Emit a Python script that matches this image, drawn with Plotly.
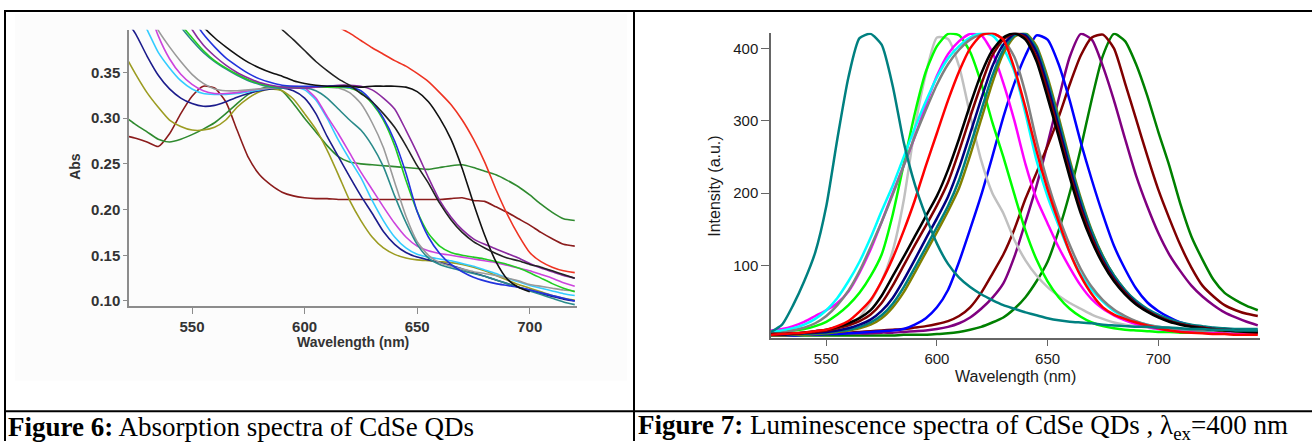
import plotly.graph_objects as go

W, H = 1312, 444

def px_x(p):
    return p / W

def px_y(p):
    return 1 - p / H

# ---------------- Figure 6: absorption data ----------------
wl_abs = [520, 525, 530, 535, 540, 545, 550, 555, 560, 565, 570, 575, 580, 585, 590,
          595, 600, 605, 610, 615, 620, 625, 630, 635, 640, 645, 650, 655, 660, 665,
          670, 675, 680, 685, 690, 695, 700, 705, 710, 715, 720]

abs_dkgreen = [0.302, 0.293, 0.285, 0.277, 0.274, 0.277, 0.282, 0.288, 0.295, 0.305, 0.316, 0.326,
               0.332, 0.334, 0.330, 0.316, 0.300, 0.285, 0.270, 0.258, 0.252, 0.250, 0.249, 0.248,
               0.247, 0.246, 0.245, 0.244, 0.246, 0.248, 0.249, 0.246, 0.242, 0.238, 0.232, 0.225,
               0.216, 0.206, 0.197, 0.190, 0.188]
abs_maroon = [0.281, 0.278, 0.274, 0.269, 0.283, 0.305, 0.324, 0.335, 0.333, 0.318, 0.287, 0.257,
              0.238, 0.227, 0.219, 0.215, 0.213, 0.212, 0.212, 0.211, 0.211, 0.211, 0.211, 0.211,
              0.211, 0.211, 0.211, 0.211, 0.211, 0.212, 0.213, 0.210, 0.209, 0.203, 0.197, 0.190,
              0.183, 0.175, 0.168, 0.162, 0.160]
abs_olive = [0.370, 0.348, 0.328, 0.312, 0.298, 0.291, 0.287, 0.287, 0.290, 0.298, 0.312, 0.322,
             0.329, 0.332, 0.330, 0.321, 0.305, 0.288, 0.265, 0.238, 0.210, 0.188, 0.170, 0.158,
             0.151, 0.147, 0.145, 0.144, 0.143, 0.142, 0.140, 0.137, 0.133, 0.128, 0.123, 0.118,
             0.114, 0.110, 0.106, 0.103, 0.101]
abs_navy = [0.410, 0.392, 0.368, 0.347, 0.332, 0.322, 0.316, 0.313, 0.314, 0.318, 0.323, 0.327,
            0.330, 0.332, 0.333, 0.330, 0.322, 0.305, 0.280, 0.258, 0.236, 0.215, 0.196, 0.176,
            0.162, 0.153, 0.148, 0.145, 0.142, 0.139, 0.135, 0.131, 0.127, 0.123, 0.119, 0.115,
            0.112, 0.108, 0.105, 0.102, 0.100]
abs_cyan = [None, 0.420, 0.397, 0.372, 0.355, 0.341, 0.332, 0.327, 0.326, 0.326, 0.327, 0.329,
            0.331, 0.333, 0.334, 0.334, 0.331, 0.320, 0.300, 0.276, 0.255, 0.235, 0.210, 0.188,
            0.170, 0.158, 0.151, 0.148, 0.146, 0.144, 0.141, 0.138, 0.134, 0.130, 0.125, 0.121,
            0.117, 0.114, 0.111, 0.108, 0.106]
abs_magenta = [None, None, 0.425, 0.390, 0.365, 0.348, 0.337, 0.330, 0.327, 0.327, 0.328, 0.330,
               0.332, 0.333, 0.334, 0.335, 0.333, 0.322, 0.302, 0.283, 0.262, 0.241, 0.222, 0.203,
               0.185, 0.170, 0.160, 0.155, 0.152, 0.150, 0.148, 0.146, 0.144, 0.142, 0.139, 0.136,
               0.133, 0.129, 0.125, 0.120, 0.116]
abs_gray = [None, None, 0.420, 0.396, 0.378, 0.362, 0.348, 0.338, 0.332, 0.330, 0.330, 0.331,
            0.332, 0.333, 0.334, 0.334, 0.334, 0.334, 0.334, 0.333, 0.328, 0.316, 0.295, 0.268,
            0.230, 0.193, 0.165, 0.150, 0.142, 0.138, 0.135, 0.132, 0.130, 0.128, 0.125, 0.122,
            0.118, 0.116, 0.114, 0.112, 0.111]
abs_teal = [None, None, None, None, 0.420, 0.400, 0.385, 0.372, 0.362, 0.354, 0.347, 0.341,
            0.337, 0.334, 0.333, 0.333, 0.333, 0.330, 0.322, 0.310, 0.298, 0.287, 0.270, 0.247,
            0.215, 0.186, 0.162, 0.147, 0.140, 0.136, 0.133, 0.130, 0.127, 0.123, 0.119, 0.115,
            0.111, 0.107, 0.103, 0.099, 0.096]
abs_lime = [None, None, None, None, 0.425, 0.403, 0.388, 0.374, 0.363, 0.355, 0.348, 0.342,
            0.338, 0.335, 0.334, 0.334, 0.334, 0.334, 0.334, 0.334, 0.333, 0.328, 0.316, 0.298,
            0.270, 0.232, 0.198, 0.174, 0.160, 0.153, 0.150, 0.148, 0.146, 0.143, 0.140, 0.136,
            0.131, 0.125, 0.119, 0.114, 0.110]
abs_purple = [None, None, None, None, None, 0.420, 0.397, 0.380, 0.368, 0.358, 0.350, 0.344,
              0.339, 0.336, 0.334, 0.333, 0.333, 0.334, 0.335, 0.336, 0.336, 0.335, 0.331, 0.322,
              0.310, 0.287, 0.262, 0.235, 0.210, 0.192, 0.178, 0.168, 0.162, 0.157, 0.152, 0.147,
              0.141, 0.136, 0.132, 0.128, 0.125]
abs_blue = [None, None, None, None, None, None, 0.410, 0.392, 0.378, 0.366, 0.357, 0.349,
            0.343, 0.339, 0.336, 0.335, 0.335, 0.335, 0.335, 0.335, 0.334, 0.330, 0.318, 0.300,
            0.275, 0.240, 0.198, 0.170, 0.152, 0.140, 0.132, 0.126, 0.122, 0.119, 0.117, 0.115,
            0.112, 0.109, 0.106, 0.103, 0.100]
abs_black_a = [None, None, None, None, None, None, 0.415, 0.400, 0.388, 0.378, 0.369, 0.361,
               0.355, 0.350, 0.346, 0.341, 0.338, 0.336, 0.335, 0.335, 0.335, 0.334, 0.335, 0.335,
               0.335, 0.334, 0.329, 0.318, 0.300, 0.277, 0.245, 0.207, 0.172, 0.143, 0.124, 0.115,
               0.110, None, None, None, None]
abs_black_b = [None, None, None, None, None, None, None, None, None, None, None, None, None,
               0.412, 0.397, 0.386, 0.374, 0.362, 0.352, 0.343, 0.336, 0.327, 0.318, 0.305,
               0.290, 0.270, 0.248, 0.229, 0.207, 0.189, 0.175, 0.165, 0.158, 0.152, 0.147, 0.144,
               0.140, 0.137, 0.133, 0.129, 0.125]
abs_red = [None, None, None, None, None, None, None, None, None, None, None, None, None, None,
           None, None, None, None, 0.412, 0.400, 0.393, 0.385, 0.377, 0.370, 0.363, 0.357, 0.349,
           0.340, 0.328, 0.315, 0.298, 0.277, 0.252, 0.222, 0.195, 0.172, 0.153, 0.143, 0.137,
           0.133, 0.131]

abs_series = [
    (abs_maroon, "#8b1c1c"), (abs_dkgreen, "#2f8a2f"), (abs_olive, "#9c9c22"),
    (abs_navy, "#1c1c8c"), (abs_cyan, "#33ccff"), (abs_magenta, "#cc44dd"),
    (abs_gray, "#9a9a9a"), (abs_teal, "#2a8a8a"), (abs_lime, "#22cc22"),
    (abs_purple, "#8a2aa0"), (abs_blue, "#2233dd"), (abs_black_a, "#111111"),
    (abs_black_b, "#222222"), (abs_red, "#ee3322"),
]

# ---------------- Figure 7: luminescence data ----------------
wl_pl = [525, 530, 535, 540, 545, 550, 555, 560, 565, 570, 575, 580, 585, 590, 595,
         600, 605, 610, 615, 620, 625, 630, 635, 640, 645, 650, 655, 660, 665, 670,
         675, 680, 685, 690, 695, 700, 705, 710, 715, 720, 725, 730, 735, 740, 745]

pl_teal = [8, 18, 45, 78, 118, 182, 275, 360, 414, 420, 405, 348, 270, 212, 168, 130, 102, 83,
           70, 60, 52, 45, 40, 35, 31, 27, 24, 22, 21, 20, 18, 17, 16, 15, 15, 14, 14, 13,
           12, 12, 11, 11, 10, 10, 10]
pl_silver = [5, 5, 6, 7, 8, 10, 12, 16, 28, 50, 78, 120, 190, 290, 365, 415, 413, 375, 308,
             245, 200, 172, 135, 107, 86, 70, 58, 48, 40, 32, 26, 21, 18, 16, 14, 12, 11, 10,
             9, 8, 8, 7, 7, 7, 7]
pl_lime = [8, 9, 10, 12, 16, 22, 32, 45, 62, 85, 115, 170, 240, 310, 368, 403, 420, 418, 395,
           352, 298, 250, 198, 148, 108, 78, 56, 40, 29, 21, 16, 13, 11, 10, 9, 8, 8, 7, 7,
           7, 6, 6, 6, 6, 6]
pl_magenta = [10, 12, 16, 22, 30, 38, 48, 64, 90, 122, 160, 200, 238, 278, 322, 362, 392, 410,
              420, 418, 395, 352, 300, 240, 192, 158, 125, 97, 72, 53, 40, 31, 24, 19, 15, 12,
              10, 9, 8, 7, 7, 7, 6, 6, 6]
pl_cyan = [8, 10, 13, 18, 26, 38, 55, 78, 105, 138, 175, 210, 250, 290, 327, 360, 386, 403,
           415, 421, 418, 400, 368, 310, 245, 195, 155, 118, 88, 66, 50, 37, 28, 22, 18, 15,
           13, 12, 11, 10, 10, 10, 9, 9, 9]
pl_gray = [6, 7, 10, 14, 20, 30, 45, 65, 92, 125, 160, 198, 238, 278, 315, 350, 378, 398, 412,
           419, 421, 412, 388, 338, 272, 215, 168, 128, 95, 70, 52, 39, 30, 23, 18, 15, 13,
           12, 11, 10, 10, 9, 9, 9, 9]
pl_red = [4, 5, 6, 7, 9, 11, 16, 23, 36, 52, 78, 110, 148, 190, 238, 283, 328, 368, 400, 418,
          421, 412, 372, 318, 258, 205, 160, 118, 85, 60, 42, 32, 26, 21, 17, 13, 10, 8, 7, 6,
          5, 5, 4, 4, 4]
pl_black = [5, 5, 6, 7, 9, 11, 15, 20, 27, 38, 58, 85, 112, 140, 168, 196, 232, 275, 322, 365,
            397, 415, 421, 412, 382, 332, 278, 222, 172, 133, 102, 78, 60, 46, 36, 28, 22, 18,
            15, 13, 11, 10, 9, 8, 7]
pl_maroon = [5, 5, 6, 7, 8, 10, 13, 17, 23, 32, 48, 72, 100, 128, 155, 183, 215, 258, 305, 350,
             390, 412, 421, 415, 388, 340, 285, 228, 178, 138, 105, 80, 62, 47, 37, 29, 23, 19,
             16, 14, 12, 11, 10, 9, 9]
pl_navy = [4, 4, 5, 6, 7, 8, 10, 13, 18, 25, 37, 55, 80, 108, 137, 165, 195, 235, 282, 330,
           375, 405, 420, 418, 395, 348, 292, 235, 183, 140, 107, 82, 63, 48, 37, 29, 23, 19,
           16, 14, 12, 11, 10, 9, 9]
pl_teal2 = [4, 4, 5, 5, 6, 7, 9, 11, 15, 21, 31, 47, 70, 97, 125, 153, 182, 218, 265, 314,
            362, 398, 418, 420, 400, 355, 300, 242, 190, 146, 112, 86, 66, 51, 40, 32, 26, 21,
            18, 16, 14, 13, 12, 12, 12]
pl_olive = [3, 3, 4, 4, 5, 6, 8, 10, 13, 18, 27, 42, 63, 90, 118, 146, 175, 207, 252, 302, 352,
            393, 416, 421, 403, 360, 305, 246, 193, 148, 113, 86, 66, 50, 39, 30, 24, 19, 16,
            13, 11, 10, 9, 8, 8]
pl_blue = [3, 3, 3, 4, 4, 5, 5, 6, 7, 8, 9, 10, 12, 18, 27, 42, 66, 105, 150, 197, 250, 305,
           352, 390, 418, 412, 378, 328, 270, 218, 170, 127, 95, 68, 49, 37, 28, 21, 17, 13,
           11, 9, 8, 7, 7]
pl_maroon2 = [6, 6, 6, 6, 6, 6, 7, 7, 8, 9, 10, 11, 12, 14, 16, 19, 23, 30, 42, 62, 88, 115,
              150, 192, 228, 265, 305, 350, 390, 415, 419, 400, 352, 302, 252, 205, 165, 128,
              97, 72, 57, 45, 38, 33, 30]
pl_purple = [6, 6, 6, 6, 6, 6, 6, 6, 6, 6, 7, 7, 8, 9, 10, 12, 15, 20, 28, 40, 55, 75, 112,
             160, 210, 268, 330, 388, 420, 412, 375, 328, 275, 224, 182, 145, 115, 92, 72, 57,
             45, 35, 28, 22, 17]
pl_green = [3, 3, 3, 3, 3, 3, 3, 3, 3, 3, 3, 3, 4, 4, 4, 5, 6, 8, 11, 15, 21, 28, 40, 56, 78,
            105, 148, 200, 262, 330, 390, 420, 410, 378, 335, 285, 238, 185, 140, 108, 80, 62,
            52, 44, 38]

pl_series = [
    (pl_green, "#008000"), (pl_purple, "#800080"), (pl_maroon2, "#800000"),
    (pl_blue, "#0000ff"), (pl_silver, "#c0c0c0"), (pl_lime, "#00ff00"),
    (pl_magenta, "#ff00ff"), (pl_cyan, "#00ffff"), (pl_gray, "#808080"),
    (pl_olive, "#808000"), (pl_teal2, "#008080"), (pl_navy, "#000080"),
    (pl_maroon, "#800000"), (pl_black, "#000000"), (pl_red, "#ff0000"),
    (pl_teal, "#008080"),
]

abs_ticks = [0.10, 0.15, 0.20, 0.25, 0.30, 0.35]
wl_ticks = [550, 600, 650, 700]
pl_ticks = [100, 200, 300, 400]

fig = go.Figure()
for vals, col in abs_series:
    fig.add_trace(go.Scatter(x=wl_abs, y=vals, mode="lines", xaxis="x", yaxis="y",
                             line=dict(color=col, width=1.6, shape="spline", smoothing=0.6),
                             showlegend=False, hoverinfo="skip"))
for vals, col in pl_series:
    fig.add_trace(go.Scatter(x=wl_pl, y=vals, mode="lines", xaxis="x2", yaxis="y2",
                             line=dict(color=col, width=2.5, shape="spline", smoothing=0.6),
                             showlegend=False, hoverinfo="skip"))

left_tick_font = dict(family="Arial", size=15, color="#333333", weight="bold")
right_tick_font = dict(family="Arial", size=15, color="#1a1a1a")

fig.update_layout(
    width=W, height=H,
    margin=dict(l=0, r=0, t=0, b=0),
    paper_bgcolor="white",
    plot_bgcolor="rgba(0,0,0,0)",
    xaxis=dict(domain=[px_x(129), px_x(577)], range=[522, 721], anchor="y",
               tickvals=wl_ticks, ticks="outside", ticklen=6, tickcolor="#8c8c8c",
               showline=True, linecolor="#8c8c8c", linewidth=1.5,
               showgrid=False, zeroline=False, tickfont=left_tick_font),
    yaxis=dict(domain=[px_y(308), px_y(30)], range=[0.0946, 0.3967], anchor="x",
               tickvals=abs_ticks, tickformat=".2f", ticks="outside", ticklen=4,
               tickcolor="#8c8c8c", showline=True, linecolor="#8c8c8c", linewidth=1.5,
               showgrid=False, zeroline=False, tickfont=left_tick_font),
    xaxis2=dict(domain=[px_x(771), px_x(1260)], range=[525, 746], anchor="y2",
                tickvals=wl_ticks, ticks="outside", ticklen=7, tickcolor="#666666",
                showline=True, linecolor="#666666", linewidth=1.5,
                showgrid=False, zeroline=False, tickfont=right_tick_font),
    yaxis2=dict(domain=[px_y(340), px_y(33)], range=[0, 421.5], anchor="x2",
                tickvals=pl_ticks, ticks="outside", ticklen=8, tickcolor="#666666",
                showline=True, linecolor="#666666", linewidth=1.5,
                showgrid=False, zeroline=False, tickfont=right_tick_font),
)

shapes = [
    dict(type="rect", xref="paper", yref="paper", x0=px_x(15), x1=px_x(627),
         y0=px_y(383), y1=px_y(14), fillcolor="#fcfcfc", line=dict(width=0), layer="below"),
    dict(type="line", xref="paper", yref="paper", x0=px_x(4), x1=1, y0=px_y(11), y1=px_y(11),
         line=dict(color="black", width=2)),
    dict(type="line", xref="paper", yref="paper", x0=px_x(4), x1=1, y0=px_y(414), y1=px_y(414),
         line=dict(color="black", width=2)),
    dict(type="line", xref="paper", yref="paper", x0=px_x(5), x1=px_x(5), y0=0, y1=px_y(10),
         line=dict(color="black", width=2)),
    dict(type="line", xref="paper", yref="paper", x0=px_x(634), x1=px_x(634), y0=0, y1=px_y(10),
         line=dict(color="black", width=2)),
]
fig.update_layout(shapes=shapes)

serif = "Liberation Serif, Times New Roman, serif"
annotations = [
    dict(text="Abs", x=px_x(75), y=px_y(168), textangle=-90,
         font=dict(family="Arial", size=14, color="#333333", weight="bold")),
    dict(text="Wavelength (nm)", x=px_x(353), y=px_y(344),
         font=dict(family="Arial", size=14, color="#333333", weight="bold")),
    dict(text="Intensity (a.u.)", x=px_x(715), y=px_y(188), textangle=-90,
         font=dict(family="Arial", size=16, color="#1a1a1a")),
    dict(text="Wavelength (nm)", x=px_x(1015), y=px_y(379),
         font=dict(family="Arial", size=16, color="#1a1a1a")),
    dict(text="<b>Figure 6:</b> Absorption spectra of CdSe QDs", x=px_x(6), y=px_y(430),
         xanchor="left", font=dict(family=serif, size=27, color="black")),
    dict(text="<b>Figure 7:</b> Luminescence spectra of CdSe QDs , λ<sub>ex</sub>=400 nm",
         x=px_x(636), y=px_y(430), xanchor="left",
         font=dict(family=serif, size=27, color="black")),
]
for a in annotations:
    a.setdefault("xanchor", "center")
    a.update(xref="paper", yref="paper", yanchor="middle", showarrow=False)
fig.update_layout(annotations=annotations)

fig.write_html("out.html", config={"displayModeBar": False},
               post_script="document.body.style.margin='0px';document.body.style.overflow='hidden';")
